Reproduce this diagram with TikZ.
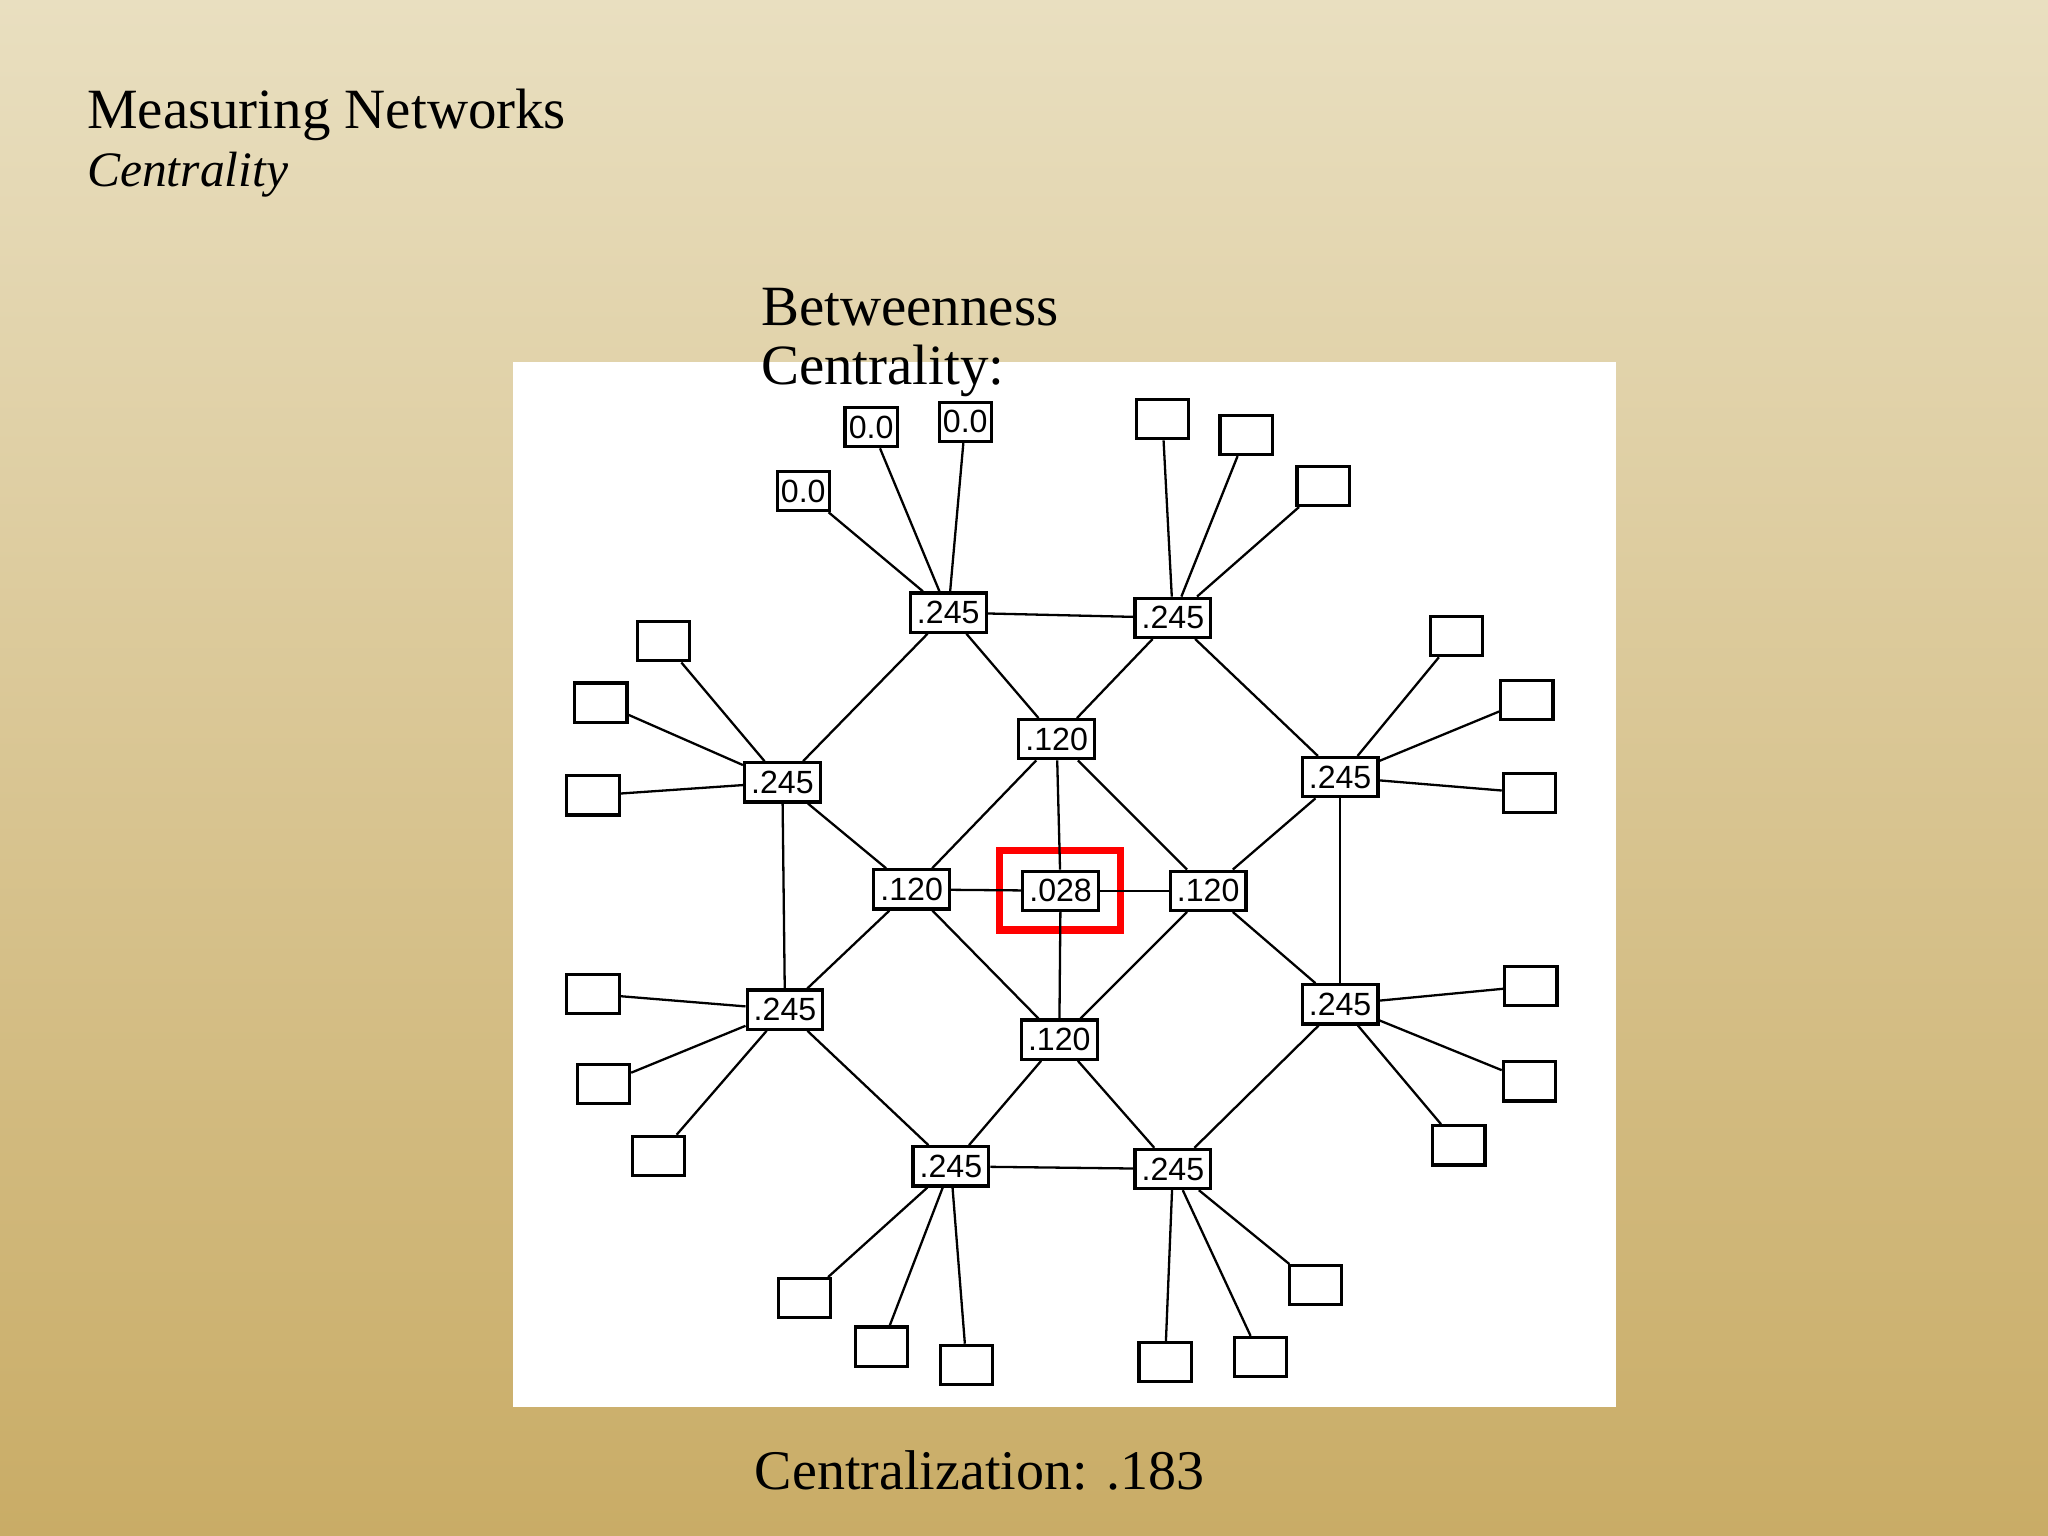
\documentclass[tikz,border=0pt]{standalone}
\usepackage{fontspec}
\setmainfont{Liberation Serif}
\newfontfamily\pix{Liberation Sans}
\definecolor{bgtop}{HTML}{E9DFC0}
\definecolor{bgbot}{HTML}{C9AC66}
\begin{document}
\begin{tikzpicture}[
  val/.style={draw,fill=white,line width=0.7pt,minimum width=0.58cm,minimum height=0.3cm,inner sep=1pt,font=\pix\fontsize{7}{8}\selectfont},
  leaf/.style={draw,fill=white,line width=0.7pt,minimum width=0.4cm,minimum height=0.3cm,inner sep=0pt,font=\pix\fontsize{7}{8}\selectfont},
  edge/.style={line width=0.5pt}]
\useasboundingbox (0,0) rectangle (15.68,-11.76);
\shade[top color=bgtop,bottom color=bgbot] (0,0) rectangle (15.68,-11.76);
\fill[white] (3.93,-2.77) rectangle (12.37,-10.77);
\node[anchor=west,font=\fontsize{12.4}{14}\selectfont,inner sep=0pt] (t1) at (0.66,-0.88) {Measuring Networks};
\node[anchor=west,font=\itshape\fontsize{10.8}{13}\selectfont,inner sep=0pt] (t2) at (0.66,-1.34) {Centrality};
\node[anchor=north west,align=left,font=\fontsize{12.4}{12.8}\selectfont,inner sep=0pt] (bc) at (5.82,-2.2) {Betweenness\\Centrality:};
\node[font=\fontsize{12.2}{14}\selectfont] (cz) at (7.5,-11.26) {Centralization: .183};
% hubs
\coordinate (pA1) at (7.26,-4.69); \coordinate (pA2) at (8.98,-4.73);
\coordinate (pL1) at (5.99,-5.99); \coordinate (pL2) at (6.01,-7.73);
\coordinate (pR1) at (10.26,-5.95); \coordinate (pR2) at (10.26,-7.69);
\coordinate (pB1) at (7.28,-8.93); \coordinate (pB2) at (8.98,-8.95);
% leaves
\foreach \n/\x/\y/\t in {a1/6.15/3.76/0.0,a2/6.67/3.27/0.0,a3/7.39/3.23/0.0}
  \node[leaf] (\n) at (\x,-\y) {\t};
\foreach \n/\x/\y in {b1/8.90/3.21,b2/9.54/3.33,b3/10.13/3.72,
  l1/5.08/4.91,l2/4.60/5.38,l3/4.54/6.09,
  m1/4.54/7.61,m2/4.62/8.30,m3/5.04/8.85,
  r1/11.15/4.87,r2/11.69/5.36,r3/11.71/6.07,
  s1/11.72/7.55,s2/11.71/8.28,s3/11.17/8.77,
  c1/6.16/9.94,c2/6.75/10.31,c3/7.40/10.45,
  d1/8.92/10.43,d2/9.65/10.39,d3/10.07/9.84}
  \node[leaf] (\n) at (\x,-\y) {};
\node[val] (A1) at (pA1) {.245}; \node[val] (A2) at (pA2) {.245};
\node[val] (L1) at (pL1) {.245}; \node[val] (L2) at (pL2) {.245};
\node[val] (R1) at (pR1) {.245}; \node[val] (R2) at (pR2) {.245};
\node[val] (B1) at (pB1) {.245}; \node[val] (B2) at (pB2) {.245};
\node[val] (T) at (8.09,-5.66) {.120};
\node[val] (W) at (6.98,-6.81) {.120};
\node[val] (C) at (8.12,-6.82) {.028};
\node[val] (E) at (9.25,-6.82) {.120};
\node[val] (S) at (8.11,-7.96) {.120};
\node[draw=red,line width=1.6pt,minimum width=0.93cm,minimum height=0.61cm] (hl) at (8.115,-6.815) {};
\foreach \a/\b in {A1/A2,A1/T,A2/T,A1/L1,A2/R1,L1/W,L1/L2,L2/W,L2/B1,B1/S,B2/S,B1/B2,B2/R2,R2/E,R2/R1,R1/E,T/W,T/E,T/C,W/C,C/E,C/S,W/S,E/S,
  A1/a1,A1/a2,A1/a3,A2/b1,A2/b2,A2/b3,L1/l1,L1/l2,L1/l3,L2/m1,L2/m2,L2/m3,R1/r1,R1/r2,R1/r3,R2/s1,R2/s2,R2/s3,B1/c1,B1/c2,B1/c3,B2/d1,B2/d2,B2/d3}
  \draw[edge] (\a) -- (\b);
\end{tikzpicture}
\end{document}
